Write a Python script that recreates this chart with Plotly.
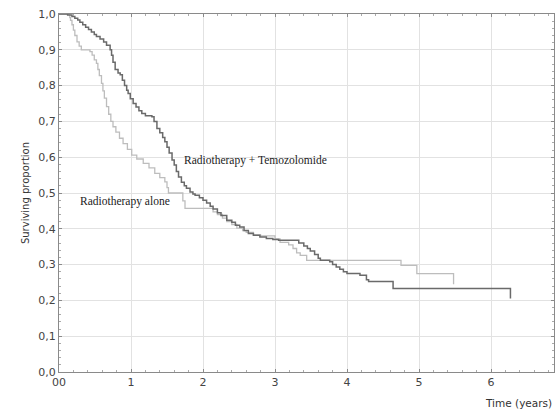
import plotly.graph_objects as go

# Radiotherapy + Temozolomide (Kaplan-Meier step points)
tmz_t = [0, 0.12, 0.18, 0.22, 0.26, 0.29, 0.33, 0.37, 0.41, 0.45, 0.49, 0.52, 0.57, 0.62, 0.66,
         0.71, 0.73, 0.75, 0.78, 0.82, 0.85, 0.88, 0.91, 0.94, 0.96, 0.99, 1.03, 1.07, 1.11, 1.15,
         1.2, 1.29, 1.32, 1.36, 1.40, 1.44, 1.47, 1.50, 1.53, 1.57, 1.60, 1.63, 1.66, 1.70, 1.74,
         1.77, 1.82, 1.86, 1.89, 1.95, 2.0, 2.05, 2.1, 2.14, 2.2, 2.25, 2.33, 2.4, 2.45, 2.51,
         2.57, 2.63, 2.7, 2.79, 2.88, 2.97, 3.05, 3.33, 3.4, 3.45, 3.49, 3.55, 3.6, 3.63, 3.76,
         3.8, 3.85, 3.9, 3.95, 4.0, 4.18, 4.27, 4.3, 4.64, 6.26, 6.27]
tmz_s = [1.0, 0.997, 0.993, 0.988, 0.983, 0.977, 0.97, 0.963, 0.957, 0.95, 0.943, 0.937, 0.93, 0.922, 0.913,
         0.90, 0.885, 0.865, 0.845, 0.835, 0.83, 0.815, 0.80, 0.787, 0.778, 0.763, 0.75, 0.74, 0.73, 0.722,
         0.716, 0.713, 0.70, 0.68, 0.668, 0.655, 0.643, 0.628, 0.612, 0.592, 0.578, 0.56, 0.545, 0.53, 0.52,
         0.513, 0.503, 0.497, 0.494, 0.487, 0.48, 0.472, 0.463, 0.455, 0.445, 0.437, 0.424, 0.418, 0.41, 0.405,
         0.395, 0.387, 0.382, 0.377, 0.373, 0.370, 0.368, 0.36, 0.352, 0.345, 0.338, 0.328, 0.318, 0.312, 0.308,
         0.30, 0.293, 0.287, 0.28, 0.275, 0.27, 0.258, 0.253, 0.233, 0.233, 0.205]

# Radiotherapy alone
rt_t = [0, 0.15, 0.16, 0.18, 0.2, 0.22, 0.25, 0.28, 0.31, 0.43, 0.46, 0.49, 0.52, 0.54, 0.56, 0.59,
        0.61, 0.63, 0.66, 0.69, 0.72, 0.75, 0.79, 0.84, 0.89, 0.95, 1.01, 1.08, 1.17, 1.25, 1.33,
        1.40, 1.47, 1.50, 1.52, 1.72, 1.75, 2.14, 2.2, 2.27, 2.33, 2.4, 2.47, 2.55, 2.6, 2.7, 2.8,
        3.0, 3.07, 3.19, 3.25, 3.3, 3.35, 3.44, 4.75, 4.97, 5.48]
rt_s = [1.0, 0.99, 0.982, 0.97, 0.955, 0.94, 0.922, 0.91, 0.90, 0.895, 0.885, 0.872, 0.862, 0.845, 0.828, 0.806,
        0.785, 0.765, 0.741, 0.72, 0.70, 0.685, 0.67, 0.653, 0.638, 0.622, 0.606, 0.595, 0.583, 0.57, 0.555,
        0.543, 0.531, 0.515, 0.50, 0.478, 0.457, 0.447, 0.44, 0.43, 0.42, 0.412, 0.402, 0.395, 0.39, 0.383, 0.38,
        0.372, 0.362, 0.355, 0.345, 0.333, 0.326, 0.312, 0.298, 0.275, 0.245]

x_ticks = [0, 1, 2, 3, 4, 5, 6]
x_labels = ["00", "1", "2", "3", "4", "5", "6"]
y_ticks = [0.0, 0.1, 0.2, 0.3, 0.4, 0.5, 0.6, 0.7, 0.8, 0.9, 1.0]
y_labels = ["0,0", "0,1", "0,2", "0,3", "0,4", "0,5", "0,6", "0,7", "0,8", "0,9", "1,0"]

fig = go.Figure()
fig.add_trace(go.Scatter(x=rt_t, y=rt_s, mode="lines", line_shape="hv",
                         line=dict(color="#bdbdbd", width=1.3), name="Radiotherapy alone"))
fig.add_trace(go.Scatter(x=tmz_t, y=tmz_s, mode="lines", line_shape="hv",
                         line=dict(color="#6a6a6a", width=1.5), name="Radiotherapy + Temozolomide"))

tickfont = dict(family="DejaVu Sans", size=11, color="#444444")
fig.update_xaxes(range=[0, 6.875], tickvals=x_ticks, ticktext=x_labels, tickfont=tickfont,
                 showgrid=True, gridcolor="#e2e2e2", gridwidth=1, zeroline=False,
                 showline=True, linecolor="#8a8a8a", linewidth=1, mirror="allticks",
                 ticks="inside", ticklen=3, tickcolor="#8a8a8a",
                 minor=dict(dtick=0.2, ticks="inside", ticklen=2, tickcolor="#aaaaaa", showgrid=False))
fig.update_yaxes(range=[0, 1.0], tickvals=y_ticks, ticktext=y_labels, tickfont=tickfont,
                 showgrid=True, gridcolor="#e2e2e2", gridwidth=1, zeroline=False,
                 showline=True, linecolor="#8a8a8a", linewidth=1, mirror="allticks",
                 ticks="inside", ticklen=3, tickcolor="#8a8a8a",
                 minor=dict(dtick=0.02, ticks="inside", ticklen=2, tickcolor="#aaaaaa", showgrid=False),
                 title=dict(text="Surviving proportion", font=dict(family="DejaVu Sans", size=10, color="#333333"),
                            standoff=6))

serif = dict(family="Liberation Serif", size=11.5, color="#222222")
fig.add_annotation(x=2.73, y=0.59, text="Radiotherapy + Temozolomide", showarrow=False, font=serif,
                   xanchor="center", yanchor="middle")
fig.add_annotation(x=0.91, y=0.475, text="Radiotherapy alone", showarrow=False, font=serif,
                   xanchor="center", yanchor="middle")
fig.add_annotation(xref="paper", yref="paper", x=1.0, y=-0.087, text="Time (years)", showarrow=False,
                   font=dict(family="DejaVu Sans", size=10.5, color="#333333"), xanchor="right", yanchor="middle")

fig.update_layout(width=560, height=413, margin=dict(l=59, r=6, t=14, b=41),
                  paper_bgcolor="white", plot_bgcolor="white", showlegend=False)

fig.write_html("out.html")
